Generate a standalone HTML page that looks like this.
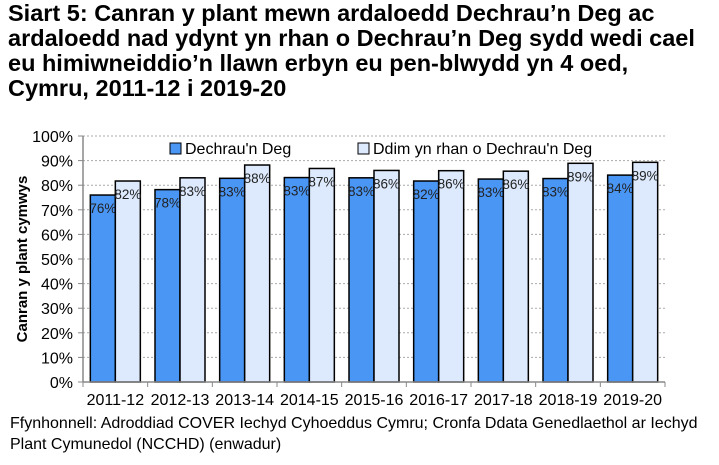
<!DOCTYPE html>
<html><head><meta charset="utf-8"><style>
body{margin:0;width:719px;height:465px;background:#fff;font-family:"Liberation Sans",Arial,sans-serif;overflow:hidden}
#title{position:absolute;left:8px;top:1px;font-weight:bold;font-size:23.5px;line-height:25px;color:#000;white-space:nowrap}
#src{position:absolute;left:10px;top:413px;font-size:16px;line-height:21px;color:#000;white-space:nowrap}
svg{position:absolute;left:0;top:0}
</style></head><body>
<div id="title">Siart 5: Canran y plant mewn ardaloedd Dechrau’n Deg ac<br>ardaloedd nad ydynt yn rhan o Dechrau’n Deg sydd wedi cael<br>eu himiwneiddio’n llawn erbyn eu pen-blwydd yn 4 oed,<br>Cymru, 2011-12 i 2019-20</div>
<svg id="chart" width="719" height="465"></svg>
<div id="src">Ffynhonnell: Adroddiad COVER Iechyd Cyhoeddus Cymru; Cronfa Ddata Genedlaethol ar Iechyd<br>Plant Cymunedol (NCCHD) (enwadur)</div>
<script>
const categories=["2011-12","2012-13","2013-14","2014-15","2015-16","2016-17","2017-18","2018-19","2019-20"];
const seriesNames=["Dechrau'n Deg","Ddim yn rhan o Dechrau'n Deg"];
const flyingStart=[76.0,78.2,82.8,83.1,83.0,81.7,82.5,82.7,84.1];
const notFlyingStart=[81.7,83.0,88.2,86.8,86.0,85.9,85.7,88.9,89.3];
const yTicks=[0,10,20,30,40,50,60,70,80,90,100];
const NS="http://www.w3.org/2000/svg";
const svg=document.getElementById('chart');
const L=83,R=665,T=136,B=382;
const y=v=>B-(B-T)*v/100;
const cw=(R-L)/categories.length;
const x=i=>L+cw*i;
function mk(t,a){const e=document.createElementNS(NS,t);for(const k in a)e.setAttribute(k,a[k]);svg.appendChild(e);return e;}
yTicks.forEach(v=>{
 if(v>0){const g=mk('line',{x1:L,x2:R,y1:y(v),y2:y(v),stroke:'#aaa','stroke-dasharray':'2,2'});
 
 }
 const tk=mk('line',{x1:L-5,x2:L,y1:y(v),y2:y(v),stroke:'#888'});
 
 
 const t=mk('text',{x:L-10,y:y(v)+6,'text-anchor':'end','font-size':16,fill:'#000'});t.textContent=v+'%';
 
 
});
const bw=25;
const series=[flyingStart,notFlyingStart];
const fills=['#4a96f5','#dde9fc'];
categories.forEach((c,i)=>{
 const x0=x(i)+(cw-2*bw)/2;
 series.forEach((s,j)=>{
  const r=mk('rect',{x:x0+j*bw,y:y(s[i]),width:bw,height:B-y(s[i]),fill:fills[j],stroke:'#000','stroke-width':1.5});
  
  
  const t=mk('text',{x:x0+j*bw+bw/2,y:y(s[i])+18,'text-anchor':'middle','font-size':13.5,fill:'#222'});
  t.textContent=Math.round(s[i])+'%';
  
  
 });
 const tk=mk('line',{x1:x(i),x2:x(i),y1:B,y2:B+5,stroke:'#888'});
 
 
 const t=mk('text',{x:x(i)+cw/2,y:B+23,'text-anchor':'middle','font-size':16,fill:'#000'});t.textContent=c;
 
 
});
const tk=mk('line',{x1:R,x2:R,y1:B,y2:B+5,stroke:'#888'});


const ax=mk('line',{x1:L,x2:L,y1:T,y2:B,stroke:'#888','stroke-width':1.5});


const bx=mk('line',{x1:L,x2:R,y1:B,y2:B,stroke:'#888','stroke-width':1.5});


const yt=mk('text',{x:0,y:0,transform:'translate(27,259) rotate(-90)','text-anchor':'middle','font-size':15,'font-weight':'bold'});
yt.textContent='Canran y plant cymwys';


const lx=[170,358];
seriesNames.forEach((n,j)=>{
 const r=mk('rect',{x:lx[j],y:143,width:11,height:11,fill:fills[j],stroke:'#000'});
 
 
 const t=mk('text',{x:lx[j]+15,y:154,'font-size':16});t.textContent=n;
 
 
});
</script>
</body></html>
